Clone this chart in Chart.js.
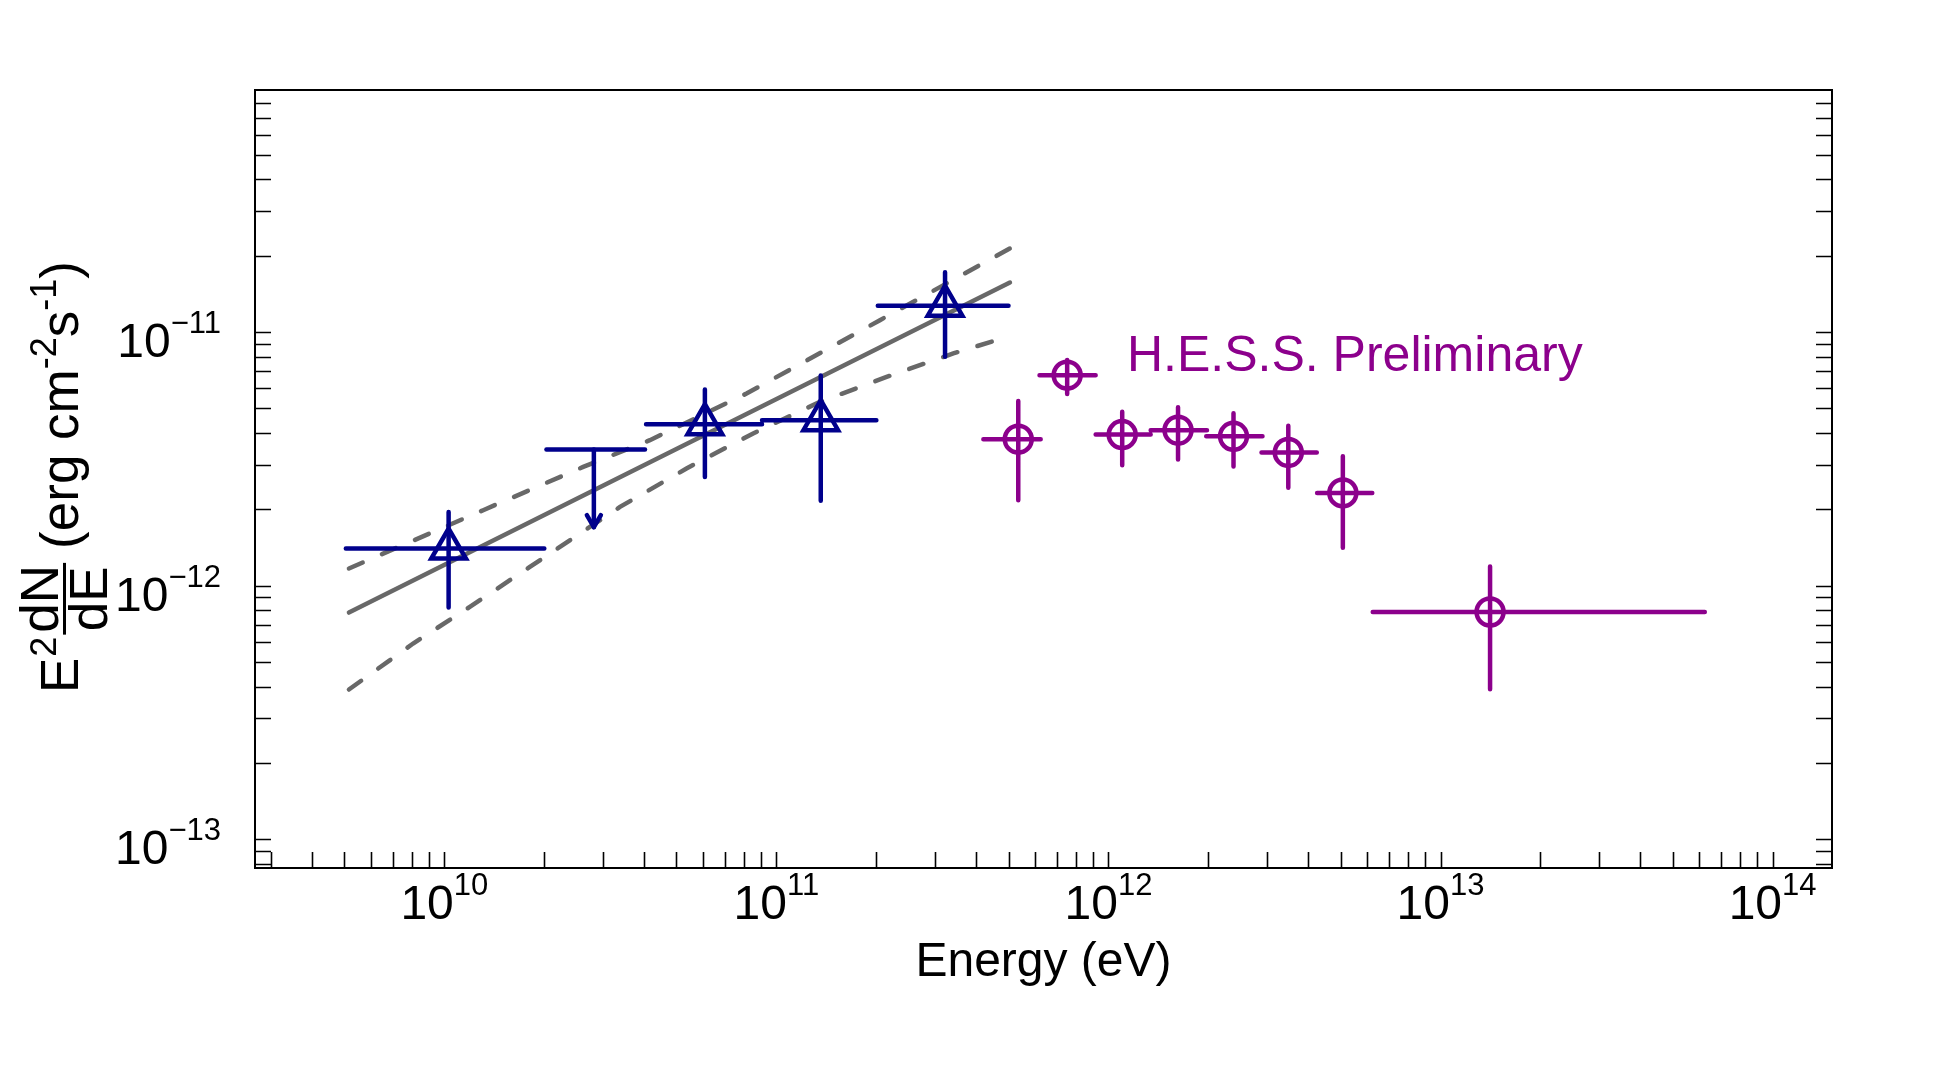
<!DOCTYPE html>
<html>
<head>
<meta charset="utf-8">
<title>SED</title>
<script src="https://cdn.jsdelivr.net/npm/chart.js@4.4.1/dist/chart.umd.min.js"></script>
<style>
  html, body { margin: 0; padding: 0; background: #fff; }
  #sed { display: block; }
</style>
</head>
<body>
<canvas id="sed" width="1953" height="1078"></canvas>
<script>
// Fermi-LAT points (triangles)
const latEnergy = [1.03e10, 6.09e10, 1.36e11, 3.22e11];
const latEnergyLow = [5.05e9, 4.05e10, 9.05e10, 2.02e11];
const latEnergyHigh = [2.0e10, 9.05e10, 2.0e11, 5.0e11];
const latFlux = [1.40e-12, 4.33e-12, 4.49e-12, 1.27e-11];
const latFluxLow = [8.2e-13, 2.68e-12, 2.16e-12, 7.98e-12];
const latFluxHigh = [1.95e-12, 5.93e-12, 6.74e-12, 1.72e-11];

// Fermi-LAT upper limit
const ulEnergy = [2.82e10];
const ulEnergyLow = [2.03e10];
const ulEnergyHigh = [4.02e10];
const ulFlux = [3.44e-12];
const ulArrowTo = [1.70e-12];

// H.E.S.S. points (circles)
const hessEnergy = [5.35e11, 7.51e11, 1.10e12, 1.62e12, 2.38e12, 3.48e12, 5.08e12, 1.41e13];
const hessEnergyLow = [4.2e11, 6.2e11, 9.15e11, 1.34e12, 1.97e12, 2.89e12, 4.25e12, 6.25e12];
const hessEnergyHigh = [6.25e11, 9.15e11, 1.34e12, 1.98e12, 2.91e12, 4.24e12, 6.23e12, 6.25e13];
const hessFlux = [3.78e-12, 6.76e-12, 3.94e-12, 4.10e-12, 3.88e-12, 3.35e-12, 2.32e-12, 7.87e-13];
const hessFluxLow = [2.17e-12, 5.7e-12, 2.98e-12, 3.14e-12, 2.95e-12, 2.43e-12, 1.41e-12, 3.9e-13];
const hessFluxHigh = [5.35e-12, 7.75e-12, 4.85e-12, 5.05e-12, 4.78e-12, 4.27e-12, 3.24e-12, 1.19e-12];

// power-law fit and error band
const fitEnergy = [5.16e9, 5.05e11];
const fitFlux = [7.83e-13, 1.567e-11];
const bandHighEnergy = [5.16e9, 1.309e10, 2.619e10, 4.159e10, 8.13e10, 2.05e11, 5.05e11];
const bandHighFlux = [1.168e-12, 1.983e-12, 2.938e-12, 3.744e-12, 5.72e-12, 1.113e-11, 2.135e-11];
const bandLowEnergy = [5.16e9, 8.05e9, 1.193e10, 1.809e10, 3.38e10, 5.36e10, 8.51e10, 1.352e11, 2.147e11, 3.41e11, 4.77e11];
const bandLowFlux = [3.893e-13, 5.91e-13, 8.24e-13, 1.185e-12, 2.043e-12, 2.896e-12, 3.98e-12, 5.30e-12, 6.65e-12, 8.23e-12, 9.43e-12];

// axes
const xMin = 2.69e9, xMax = 1.51e14;
const yMin = 7.7e-14, yMax = 9.0e-11;
const xDecades = [1e9, 1e10, 1e11, 1e12, 1e13, 1e14];
const yDecades = [1e-14, 1e-13, 1e-12, 1e-11, 1e-10];
const xLabelTicks = [1e10, 1e11, 1e12, 1e13, 1e14];
const xLabelExp = ['10', '11', '12', '13', '14'];
const yLabelTicks = [1e-13, 1e-12, 1e-11];
const yLabelExp = ['\u221213', '\u221212', '\u221211'];
const minorSteps = [1, 2, 3, 4, 5, 6, 7, 8, 9];

const hessLabel = 'H.E.S.S. Preliminary';
const hessLabelAt = {x: 1.137e12, y: 7.04e-12};

const latColor = '#00008c';
const hessColor = '#8c008c';
const fitColor = '#686868';
const FONT = '"Liberation Sans", Arial, Helvetica, sans-serif';

Chart.defaults.font.family = FONT;

function points(xs, ys) {
    return xs.map((x, i) => ({x: x, y: ys[i]}));
}

// one segment per entry, separated by gaps
function segments(x1, y1, x2, y2) {
    const pts = [];
    for (let i = 0; i < x1.length; i++) {
        pts.push({x: x1[i], y: y1[i]}, {x: x2[i], y: y2[i]}, {x: null, y: null});
    }
    return pts;
}

function barSet(data, color) {
    return {
        data: data,
        showLine: true,
        borderColor: color,
        borderWidth: 4.5,
        borderCapStyle: 'round',
        pointRadius: 0,
        spanGaps: false,
        order: 1
    };
}

function fitSet(xs, ys, dash) {
    return {
        data: points(xs, ys),
        showLine: true,
        borderColor: fitColor,
        borderWidth: 4.5,
        borderDash: dash,
        borderCapStyle: 'round',
        pointRadius: 0,
        order: 3
    };
}

function tickValues(decades, min, max) {
    const vals = [];
    decades.forEach(d => minorSteps.forEach(m => {
        const v = d * m;
        if (v >= min && v <= max) vals.push(v);
    }));
    return vals;
}

const decor = {
    id: 'decor',
    beforeDraw(chart) {
        const ctx = chart.ctx;
        ctx.save();
        ctx.fillStyle = '#fff';
        ctx.fillRect(0, 0, chart.width, chart.height);
        ctx.restore();
    },
    afterDatasetsDraw(chart) {
        const {ctx, scales: {x, y}} = chart;
        // arrow head of the upper limit
        ctx.save();
        ctx.strokeStyle = latColor;
        ctx.lineWidth = 4.5;
        ctx.lineCap = 'round';
        ctx.lineJoin = 'round';
        ulEnergy.forEach((e, i) => {
            const px = x.getPixelForValue(e);
            const py = y.getPixelForValue(ulArrowTo[i]);
            ctx.beginPath();
            ctx.moveTo(px - 7, py - 12);
            ctx.lineTo(px, py);
            ctx.lineTo(px + 7, py - 12);
            ctx.stroke();
        });
        ctx.restore();
    },
    afterDraw(chart) {
        const {ctx, chartArea: a, scales: {x, y}} = chart;
        ctx.save();

        // frame
        ctx.strokeStyle = '#000';
        ctx.lineWidth = 2;
        ctx.strokeRect(a.left, a.top, a.right - a.left, a.bottom - a.top);

        // inside ticks: bottom, left, right
        ctx.lineWidth = 1.6;
        ctx.beginPath();
        tickValues(xDecades, xMin, xMax).forEach(v => {
            const px = Math.round(x.getPixelForValue(v)) + 0.5;
            if (px - a.left < 2 || a.right - px < 2) return;
            ctx.moveTo(px, a.bottom);
            ctx.lineTo(px, a.bottom - 16);
        });
        tickValues(yDecades, yMin, yMax).forEach(v => {
            const py = Math.round(y.getPixelForValue(v)) + 0.5;
            if (py - a.top < 2 || a.bottom - py < 2) return;
            ctx.moveTo(a.left, py);
            ctx.lineTo(a.left + 16, py);
            ctx.moveTo(a.right, py);
            ctx.lineTo(a.right - 16, py);
        });
        ctx.stroke();

        // tick labels with exponents
        ctx.fillStyle = '#000';
        ctx.textBaseline = 'alphabetic';
        const mainFont = '48px ' + FONT;
        const supFont = '31px ' + FONT;
        xLabelTicks.forEach((v, i) => {
            const px = x.getPixelForValue(v);
            ctx.font = mainFont;
            const w1 = ctx.measureText('10').width;
            ctx.font = supFont;
            const w2 = ctx.measureText(xLabelExp[i]).width;
            const start = px - (w1 + w2) / 2;
            ctx.font = mainFont;
            ctx.fillText('10', start, a.bottom + 51);
            ctx.font = supFont;
            ctx.fillText(xLabelExp[i], start + w1, a.bottom + 27);
        });
        yLabelTicks.forEach((v, i) => {
            const py = y.getPixelForValue(v);
            ctx.font = mainFont;
            const w1 = ctx.measureText('10').width;
            ctx.font = supFont;
            const w2 = ctx.measureText(yLabelExp[i]).width;
            const start = 221 - (w1 + w2);
            ctx.font = mainFont;
            ctx.fillText('10', start, py + 25);
            ctx.font = supFont;
            ctx.fillText(yLabelExp[i], start + w1, py + 1);
        });

        // annotation
        ctx.fillStyle = hessColor;
        ctx.font = '50px ' + FONT;
        ctx.fillText(hessLabel, x.getPixelForValue(hessLabelAt.x), y.getPixelForValue(hessLabelAt.y));

        // y title: E^2 dN/dE (erg cm^-2 s^-1)
        const big = '53px ' + FONT;
        const small = '36px ' + FONT;
        ctx.fillStyle = '#000';
        ctx.translate(78, 693);
        ctx.rotate(-Math.PI / 2);
        let u = 0;
        ctx.font = big;
        ctx.fillText('E', u, 0);
        u += ctx.measureText('E').width;
        ctx.font = small;
        ctx.fillText('2', u + 1, -22);
        u += ctx.measureText('2').width + 3;
        ctx.font = big;
        const wN = ctx.measureText('dN').width;
        const wD = ctx.measureText('dE').width;
        const wF = Math.max(wN, wD) + 4;
        ctx.fillText('dN', u + (wF - wN) / 2, -20);
        ctx.fillText('dE', u + (wF - wD) / 2, 29);
        ctx.fillRect(u, -15, wF, 3);
        u += wF + 14;
        const parts = [['(erg cm', big, 0], ['-2', small, -22], ['s', big, 0], ['-1', small, -22], [')', big, 0]];
        parts.forEach(p => {
            ctx.font = p[1];
            ctx.fillText(p[0], u, p[2]);
            u += ctx.measureText(p[0]).width;
        });

        ctx.restore();
    }
};

const ctx = document.getElementById('sed').getContext('2d');
const chart = new Chart(ctx, {
    type: 'scatter',
    data: {
        datasets: [
            {
                data: points(latEnergy, latFlux),
                pointStyle: 'triangle',
                pointRadius: 20,
                pointBorderWidth: 4.5,
                pointBorderColor: latColor,
                pointBackgroundColor: 'rgba(0,0,0,0)',
                order: 0
            },
            {
                data: points(hessEnergy, hessFlux),
                pointStyle: 'circle',
                pointRadius: 13.5,
                pointBorderWidth: 4.5,
                pointBorderColor: hessColor,
                pointBackgroundColor: 'rgba(0,0,0,0)',
                order: 0
            },
            barSet(segments(latEnergyLow, latFlux, latEnergyHigh, latFlux), latColor),
            barSet(segments(latEnergy, latFluxLow, latEnergy, latFluxHigh), latColor),
            barSet(segments(ulEnergyLow, ulFlux, ulEnergyHigh, ulFlux), latColor),
            barSet(segments(ulEnergy, ulFlux, ulEnergy, ulArrowTo), latColor),
            barSet(segments(hessEnergyLow, hessFlux, hessEnergyHigh, hessFlux), hessColor),
            barSet(segments(hessEnergy, hessFluxLow, hessEnergy, hessFluxHigh), hessColor),
            fitSet(fitEnergy, fitFlux, []),
            fitSet(bandHighEnergy, bandHighFlux, [15, 21]),
            fitSet(bandLowEnergy, bandLowFlux, [15, 21])
        ]
    },
    options: {
        responsive: false,
        animation: false,
        events: [],
        devicePixelRatio: 1,
        layout: { padding: { top: 90, right: 121, left: 0, bottom: 0 } },
        plugins: {
            legend: { display: false },
            tooltip: { enabled: false }
        },
        scales: {
            x: {
                type: 'logarithmic',
                position: 'bottom',
                min: xMin,
                max: xMax,
                bounds: 'data',
                grid: { display: false },
                border: { display: false },
                ticks: { display: false },
                title: {
                    display: true,
                    text: 'Energy (eV)',
                    color: '#000',
                    font: { size: 48, family: FONT },
                    padding: { top: 0, bottom: 86 }
                },
                afterFit(scale) { scale.height = 210; }
            },
            y: {
                type: 'logarithmic',
                position: 'left',
                min: yMin,
                max: yMax,
                bounds: 'data',
                grid: { display: false },
                border: { display: false },
                ticks: { display: false },
                afterFit(scale) { scale.width = 255; }
            }
        }
    },
    plugins: [decor]
});
</script>
</body>
</html>
